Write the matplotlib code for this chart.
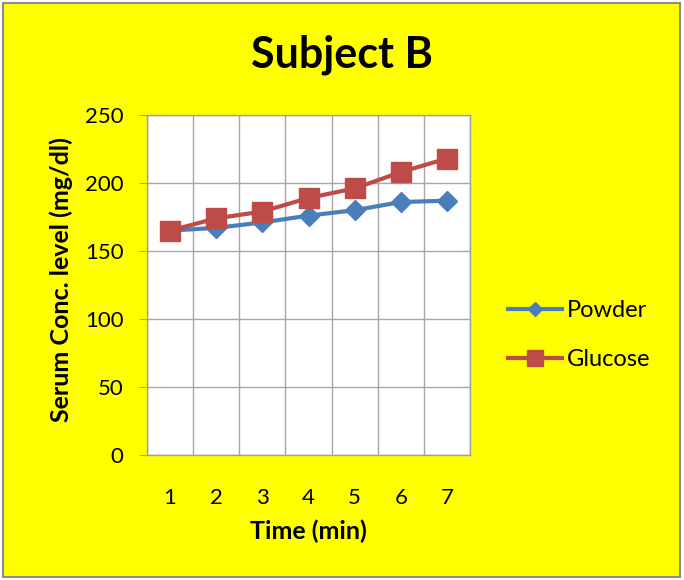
import matplotlib
matplotlib.use("Agg")
import matplotlib.pyplot as plt
from matplotlib.patches import Rectangle

plt.rcParams['font.family'] = ['Lato', 'DejaVu Sans']

time_min = [1, 2, 3, 4, 5, 6, 7]
powder = [165, 167, 171, 176, 180, 186, 187]
glucose = [165, 174, 179, 189, 196, 208, 218]
y_ticks = [0, 50, 100, 150, 200, 250]

W, H = 684, 580
fig = plt.figure(figsize=(W / 100, H / 100), dpi=100)
fig.patch.set_facecolor('white')
fig.patches.append(Rectangle((3 / W, 3 / H), 677 / W, 574 / H, transform=fig.transFigure,
                             facecolor='#FFFF00', edgecolor='#8c8c8c', linewidth=1.5, zorder=-10))

ax = fig.add_axes([147 / W, 1 - 455 / H, 323 / W, 340 / H])
ax.set_facecolor('white')

blue = '#4A7EBB'
red = '#BE4B48'
ax.plot(time_min, powder, color=blue, lw=3, marker='D', ms=10, label='Powder', zorder=3)
ax.plot(time_min, glucose, color=red, lw=3, marker='s', ms=14, label='Glucose', zorder=4)

ax.set_xlim(0.5, 7.5)
ax.set_ylim(0, 250)
ax.set_yticks(y_ticks)
ax.set_xticks(time_min)
ax.set_xticks([i + 0.5 for i in range(0, 8)], minor=True)
ax.grid(True, which='major', axis='y', color='#a6a6a6', lw=1)
ax.grid(True, which='minor', axis='x', color='#a6a6a6', lw=1)
ax.set_axisbelow(True)
for s in ax.spines.values():
    s.set_color('#a0a0a0')
    s.set_linewidth(1)
ax.tick_params(axis='y', which='major', length=6, color='#a0a0a0', labelsize=16, pad=11)
ax.tick_params(axis='x', which='major', length=0, labelsize=16, pad=24)
ax.tick_params(axis='x', which='minor', length=0)

ax.set_xlabel('Time (min)', fontsize=18, fontweight='bold', labelpad=8)
ax.set_ylabel('Serum Conc. level (mg/dl)', fontsize=18, fontweight='bold')
ax.yaxis.set_label_coords((73 - 147) / 323, (455 - 280) / 340)

fig.text(342 / W, 1 - 55 / H, 'Subject B', ha='center', va='center', fontsize=31, fontweight='bold')

leg = fig.legend(loc='center left', bbox_to_anchor=(508 / W, 1 - 335 / H), frameon=False,
                 fontsize=17, handlelength=2.3, labelspacing=1.2, handletextpad=0.2,
                 borderpad=0, borderaxespad=0)
handles = leg.legend_handles
handles[0].set_markersize(7.5)
handles[1].set_markersize(12)

fig.savefig('out.png', dpi=100, facecolor=fig.get_facecolor())
